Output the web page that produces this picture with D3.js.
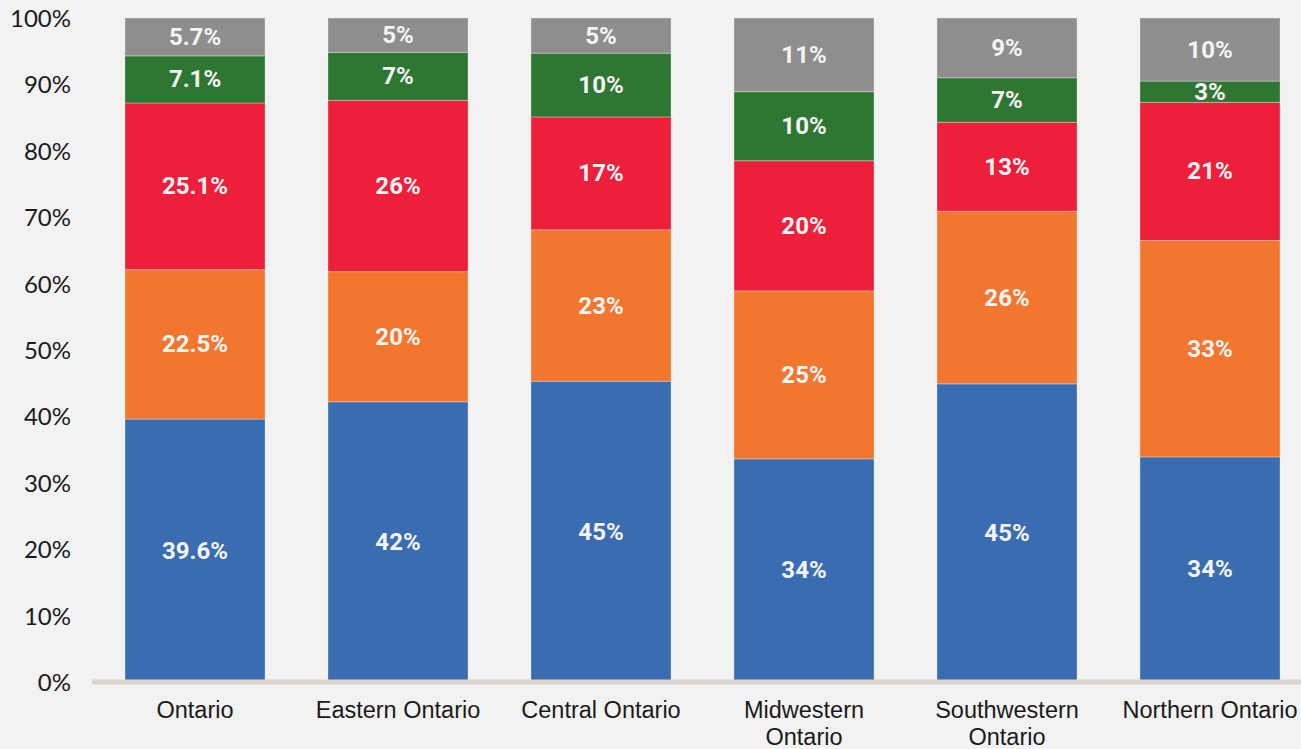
<!DOCTYPE html>
<html>
<head>
<meta charset="utf-8">
<script src="https://cdn.jsdelivr.net/npm/d3@7"></script>
<style>
  html, body { margin: 0; padding: 0; background: #f2f2f2; }
  svg { display: block; }
</style>
</head>
<body>
<svg id="chart" width="1301" height="749"></svg>
<script>
// ---- Data ----
const categories = ["Ontario", "Eastern Ontario", "Central Ontario", "Midwestern Ontario", "Southwestern Ontario", "Northern Ontario"];
const categoryLines = [["Ontario"], ["Eastern Ontario"], ["Central Ontario"], ["Midwestern", "Ontario"], ["Southwestern", "Ontario"], ["Northern Ontario"]];
const seriesNames = ["Series 1", "Series 2", "Series 3", "Series 4", "Series 5"];
const seriesColors = ["#3a6cb2", "#f2762e", "#ed1f3a", "#2e7732", "#8e8e8e"];

// values per series (bottom to top), one per category
const series1 = [39.6, 42.2, 45.3, 33.6, 44.9, 33.9];
const series2 = [22.5, 19.6, 22.8, 25.3, 26.0, 32.6];
const series3 = [25.1, 25.8, 17.0, 19.6, 13.4, 20.8];
const series4 = [7.1, 7.2, 9.6, 10.4, 6.7, 3.2];
const series5 = [5.7, 5.2, 5.3, 11.1, 9.0, 9.5];

// displayed labels
const labels1 = ["39.6%", "42%", "45%", "34%", "45%", "34%"];
const labels2 = ["22.5%", "20%", "23%", "25%", "26%", "33%"];
const labels3 = ["25.1%", "26%", "17%", "20%", "13%", "21%"];
const labels4 = ["7.1%", "7%", "10%", "10%", "7%", "3%"];
const labels5 = ["5.7%", "5%", "5%", "11%", "9%", "10%"];

const yTicks = [0, 10, 20, 30, 40, 50, 60, 70, 80, 90, 100];

// ---- Build ----
const allSeries = [series1, series2, series3, series4, series5];
const allLabels = [labels1, labels2, labels3, labels4, labels5];
const rows = categories.map((c, i) => {
  const r = { category: c, idx: i };
  seriesNames.forEach((s, k) => r[s] = allSeries[k][i]);
  return r;
});
const stacked = d3.stack().keys(seriesNames)(rows);

const svg = d3.select("#chart");
const x = d3.scaleBand().domain(categories).range([93.5, 1311.5]).paddingInner(0.31).paddingOuter(0.155);
const y = d3.scaleLinear().domain([0, 100]).range([682, 18]);

// bars
const layers = svg.append("g").selectAll("g").data(stacked).join("g")
  .attr("fill", (d, k) => seriesColors[k]);
layers.selectAll("rect").data(d => d).join("rect")
  .attr("x", d => x(d.data.category))
  .attr("width", x.bandwidth())
  .attr("y", d => y(d[1]))
  .attr("height", d => y(d[0]) - y(d[1]))
  .attr("stroke", "rgba(255,255,255,0.3)")
  .attr("stroke-width", 1);

// data labels
stacked.forEach((layer, k) => {
  svg.append("g").selectAll("text").data(layer).join("text")
    .attr("x", d => x(d.data.category) + x.bandwidth() / 2)
    .attr("y", d => (y(d[0]) + y(d[1])) / 2)
    .attr("text-anchor", "middle")
    .attr("dominant-baseline", "central")
    .attr("font-family", "Roboto, sans-serif")
    .attr("font-weight", "bold")
    .attr("font-size", "24px")
    .attr("fill", "#f4f4f4")
    .text(d => allLabels[k][d.data.idx]);
});

// y axis
const yAxis = d3.axisLeft(y).tickValues(yTicks).tickFormat(d => d + "%").tickSize(0).tickPadding(0);
const yg = svg.append("g").attr("transform", "translate(71,0)").call(yAxis);
yg.select(".domain").remove();
yg.selectAll("text")
  .attr("font-family", "Lato, sans-serif")
  .attr("font-size", "24px")
  .attr("fill", "#1a1a1a")
  .attr("dy", "0.35em");

// baseline
svg.append("line")
  .attr("x1", 92).attr("x2", 1301)
  .attr("y1", y(0)).attr("y2", y(0))
  .attr("stroke", "#d9d5cc")
  .attr("stroke-width", 5);

// x axis labels
const xAxis = d3.axisBottom(x).tickSize(0).tickFormat(() => "");
const xg = svg.append("g").attr("transform", `translate(0,${y(0)})`).call(xAxis);
xg.select(".domain").remove();
xg.selectAll(".tick").each(function(d, i) {
  const t = d3.select(this).append("text")
    .attr("text-anchor", "middle")
    .attr("font-family", "'Liberation Sans', Arial, sans-serif")
    .attr("font-size", "23.5px")
    .attr("fill", "#1a1a1a")
    .attr("y", 36);
  categoryLines[i].forEach((line, j) => {
    t.append("tspan").attr("x", 0).attr("dy", j === 0 ? 0 : 27).text(line);
  });
});
</script>
</body>
</html>
